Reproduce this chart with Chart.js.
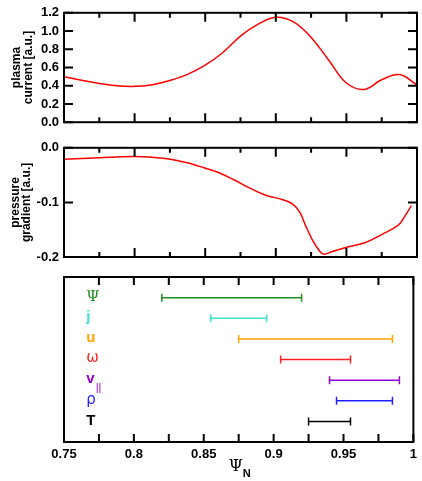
<!DOCTYPE html>
<html>
<head>
<meta charset="utf-8">
<script src="https://cdn.jsdelivr.net/npm/chart.js@4"></script>
<style>
  html, body { margin: 0; padding: 0; background: #fff; }
  #wrap { position: relative; width: 422px; height: 481px; }
  canvas { position: absolute; left: 0; }
</style>
</head>
<body>
<div id="wrap">
  <canvas id="currentChart" width="422" height="135" style="top:0"></canvas>
  <canvas id="gradientChart" width="422" height="135" style="top:135px"></canvas>
  <canvas id="rangeChart" width="422" height="211" style="top:270px"></canvas>
</div>
<script>
// ── DATA ────────────────────────────────────────────────────

const psiCurrent    = [0.75, 0.7625, 0.775, 0.7875, 0.80, 0.8125, 0.825, 0.8375, 0.85, 0.8625, 0.875, 0.8875, 0.90, 0.9125, 0.925, 0.9375, 0.95, 0.9625, 0.975, 0.9875, 1.0];
const plasmaCurrent = [0.50, 0.46, 0.425, 0.40, 0.393, 0.412, 0.458, 0.525, 0.625, 0.765, 0.945, 1.075, 1.151, 1.10, 0.93, 0.68, 0.43, 0.36, 0.465, 0.522, 0.41];

const psiGradient      = [0.75, 0.775, 0.80, 0.82, 0.835, 0.846, 0.858, 0.870, 0.881, 0.893, 0.905, 0.912, 0.917, 0.921, 0.926, 0.931, 0.934, 0.940, 0.949, 0.963, 0.975, 0.987, 0.991, 0.996];
const pressureGradient = [-0.021, -0.018, -0.016, -0.019, -0.026, -0.034, -0.044, -0.058, -0.073, -0.087, -0.095, -0.103, -0.118, -0.142, -0.169, -0.189, -0.195, -0.190, -0.183, -0.174, -0.159, -0.141, -0.127, -0.106];

const currentTicks  = [0, 0.2, 0.4, 0.6, 0.8, 1.0, 1.2];
const gradientTicks = [-0.2, -0.1, 0.0];
const psiMajor      = [0.75, 0.8, 0.85, 0.9, 0.95, 1];
const psiMinor      = [0.775, 0.825, 0.875, 0.925, 0.975];

const quantities     = ['Ψ', 'j', 'u', 'ω', 'v', 'ρ', 'T'];
const quantitySub    = ['', '', '', '', '||', '', ''];
const rangeStart     = [0.82, 0.855, 0.875, 0.905, 0.94, 0.945, 0.925];
const rangeEnd       = [0.92, 0.895, 0.985, 0.955, 0.99, 0.985, 0.955];
const rangeRow       = [7, 6, 5, 4, 3, 2, 1];
const quantityColors = ['#1e8c1e', '#40e0d0', '#ffa500', '#ff2020', '#9400d3', '#1f1fff', '#000000'];
const quantityFonts  = ['15px "DejaVu Serif"', 'bold 15px "Liberation Sans"', 'bold 15px "Liberation Sans"',
                        '15px "DejaVu Sans"', 'bold 15px "Liberation Sans"', '15px "DejaVu Sans"', 'bold 15px "Liberation Sans"'];


// ── SHARED SETUP ────────────────────────────────────────────

Chart.defaults.font.family = '"Liberation Sans", Arial, sans-serif';
Chart.defaults.font.size = 13;
Chart.defaults.font.weight = 'bold';
Chart.defaults.color = '#000';

// box frame + inward tick marks on all four sides
const frameTicks = {
  id: 'frameTicks',
  afterDraw(chart, args, opts) {
    const { ctx, chartArea: a, scales } = chart;
    ctx.save();
    ctx.strokeStyle = '#000';
    ctx.lineWidth = 2;
    ctx.beginPath();
    const xTick = (v, len) => {
      const px = scales.x.getPixelForValue(v);
      ctx.moveTo(px, a.bottom); ctx.lineTo(px, a.bottom - len);
      ctx.moveTo(px, a.top);    ctx.lineTo(px, a.top + len);
    };
    psiMajor.forEach(v => xTick(v, opts.major));
    psiMinor.forEach(v => xTick(v, opts.minor));
    (opts.yTicks || []).forEach(v => {
      const py = scales.y.getPixelForValue(v);
      ctx.moveTo(a.left, py);  ctx.lineTo(a.left + opts.major, py);
      ctx.moveTo(a.right, py); ctx.lineTo(a.right - opts.major, py);
    });
    ctx.stroke();
    ctx.strokeRect(a.left, a.top, a.right - a.left, a.bottom - a.top);
    ctx.restore();
  }
};

const hiddenX = {
  type: 'linear', min: 0.75, max: 1, display: false
};

function yAxis(min, max, ticks, title, titlePad, lineHeight) {
  return {
    min, max,
    afterBuildTicks: s => { s.ticks = ticks.map(v => ({ value: v })); },
    afterFit: s => { s.width = 64; },
    grid: { display: false, drawTicks: false },
    border: { display: false },
    ticks: { padding: 5, callback: v => v.toFixed(1) },
    title: {
      display: true, text: title,
      font: { size: 12, weight: 'bold', lineHeight },
      padding: { top: titlePad, bottom: 0 }
    }
  };
}

const curveStyle = {
  borderColor: '#ff0000',
  borderWidth: 1.5,
  pointRadius: 0,
  tension: 0.4,
  fill: false
};

const noChrome = {
  legend: { display: false },
  tooltip: { enabled: false }
};


// ── PLASMA CURRENT ──────────────────────────────────────────

new Chart(document.getElementById('currentChart'), {
  type: 'line',
  data: {
    datasets: [{
      ...curveStyle,
      data: psiCurrent.map((x, i) => ({ x, y: plasmaCurrent[i] }))
    }]
  },
  options: {
    responsive: false,
    animation: false,
    layout: { padding: { top: 11, right: 5, bottom: 8, left: 0 } },
    scales: {
      x: hiddenX,
      y: yAxis(0, 1.2, currentTicks, ['plasma', 'current [a.u.]'], 11, 1)
    },
    plugins: { ...noChrome, frameTicks: { major: 9, minor: 5, yTicks: currentTicks } }
  },
  plugins: [frameTicks]
});


// ── PRESSURE GRADIENT ───────────────────────────────────────

new Chart(document.getElementById('gradientChart'), {
  type: 'line',
  data: {
    datasets: [{
      ...curveStyle,
      data: psiGradient.map((x, i) => ({ x, y: pressureGradient[i] }))
    }]
  },
  options: {
    responsive: false,
    animation: false,
    layout: { padding: { top: 11, right: 5, bottom: 13, left: 0 } },
    scales: {
      x: hiddenX,
      y: yAxis(-0.2, 0, gradientTicks, ['pressure', 'gradient [a.u.]'], 10, 0.92)
    },
    plugins: { ...noChrome, frameTicks: { major: 9, minor: 5, yTicks: gradientTicks } }
  },
  plugins: [frameTicks]
});


// ── VALIDITY RANGES ─────────────────────────────────────────

const rangeLabels = {
  id: 'rangeLabels',
  afterDraw(chart) {
    const { ctx, chartArea: a, scales } = chart;
    ctx.save();
    ctx.textBaseline = 'middle';
    ctx.textAlign = 'left';
    const lx = scales.x.getPixelForValue(0.766);
    quantities.forEach((q, i) => {
      const py = scales.y.getPixelForValue(rangeRow[i]);
      ctx.fillStyle = quantityColors[i];
      ctx.font = quantityFonts[i];
      ctx.fillText(q, lx, py - 1);
      if (quantitySub[i]) {
        const w = ctx.measureText(q).width;
        ctx.font = '11px "Liberation Sans"';
        ctx.fillText(quantitySub[i], lx + w + 1, py + 8);
      }
    });

    // x axis title: Psi with subscript N
    ctx.fillStyle = '#000';
    ctx.font = '16px "DejaVu Serif"';
    const w1 = ctx.measureText('Ψ').width;
    ctx.font = 'bold 11px "Liberation Sans"';
    const w2 = ctx.measureText('N').width;
    const cx = (a.left + a.right) / 2 + 1 - (w1 + w2) / 2;
    ctx.font = '16px "DejaVu Serif"';
    ctx.fillText('Ψ', cx, a.bottom + 25);
    ctx.font = 'bold 11px "Liberation Sans"';
    ctx.fillText('N', cx + w1, a.bottom + 32);
    ctx.restore();
  }
};

new Chart(document.getElementById('rangeChart'), {
  type: 'line',
  data: {
    datasets: quantities.map((q, i) => ({
      label: q,
      data: [{ x: rangeStart[i], y: rangeRow[i] }, { x: rangeEnd[i], y: rangeRow[i] }],
      borderColor: quantityColors[i],
      borderWidth: 1.5,
      pointStyle: 'line',
      rotation: 90,
      pointRadius: 4,
      pointBorderWidth: 1.5,
      pointBorderColor: quantityColors[i]
    }))
  },
  options: {
    responsive: false,
    animation: false,
    layout: { padding: { top: 7, right: 5, bottom: 0, left: 64 } },
    scales: {
      x: {
        type: 'linear', min: 0.75, max: 1,
        afterBuildTicks: s => { s.ticks = psiMajor.map(v => ({ value: v })); },
        afterFit: s => { s.height = 39; },
        grid: { display: false, drawTicks: false },
        border: { display: false },
        ticks: { padding: 5, maxRotation: 0, callback: v => String(v) }
      },
      y: { min: 0, max: 8, display: false }
    },
    plugins: { ...noChrome, frameTicks: { major: 8, minor: 8 } }
  },
  plugins: [frameTicks, rangeLabels]
});
</script>
</body>
</html>
